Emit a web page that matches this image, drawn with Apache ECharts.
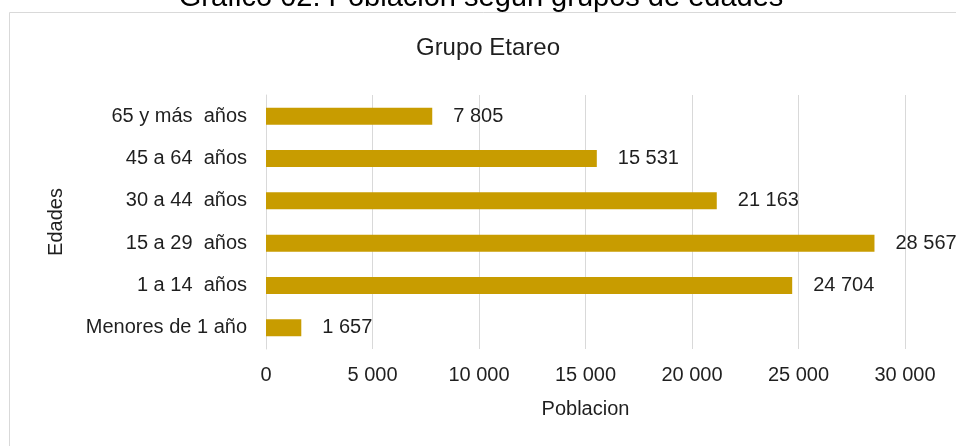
<!DOCTYPE html>
<html>
<head>
<meta charset="utf-8">
<script src="https://cdn.jsdelivr.net/npm/echarts@6/dist/echarts.min.js"></script>
<style>
  html, body { margin: 0; padding: 0; background: #fff; }
  #chart { width: 956px; height: 446px; }
</style>
</head>
<body>
<div id="chart"></div>
<script>
// Age groups, listed bottom to top on the category axis
const categories = [
  'Menores de 1 año',
  '1 a 14  años',
  '15 a 29  años',
  '30 a 44  años',
  '45 a 64  años',
  '65 y más  años'
];
// Population per age group
const poblacion = [1657, 24704, 28567, 21163, 15531, 7805];
// Value axis ticks
const xTicks = [0, 5000, 10000, 15000, 20000, 25000, 30000];

const FONT = 'Arial, "Liberation Sans", sans-serif';
const TEXT = '#1f1f1f';

// "28 567" style grouping with a space as the thousands separator
function fmt(v) {
  return String(Math.round(v)).replace(/\B(?=(\d{3})+(?!\d))/g, ' ');
}

const chart = echarts.init(document.getElementById('chart'), null, { renderer: 'canvas' });

chart.setOption({
  animation: false,
  backgroundColor: '#ffffff',
  textStyle: { fontFamily: FONT },
  graphic: [
    {
      type: 'rect',
      z: -1,
      shape: { x: 9.5, y: 12.5, width: 1000, height: 500 },
      style: { fill: '#ffffff', stroke: '#d9d9d9', lineWidth: 1 }
    },
    {
      // page heading sitting above the chart frame, partly off the top edge
      type: 'text',
      z: 10,
      x: 481,
      y: -17,
      style: {
        text: 'Gráfico 02: Población según grupos de edades',
        font: '29px ' + FONT,
        fill: '#000000',
        align: 'center',
        verticalAlign: 'top'
      }
    }
  ],
  title: {
    text: 'Grupo Etareo',
    left: 488,
    textAlign: 'center',
    top: 36,
    padding: 0,
    textStyle: { fontSize: 24, fontWeight: 'normal', color: TEXT, fontFamily: FONT, lineHeight: 24 }
  },
  grid: { left: 266, right: 51, top: 95, bottom: 97, containLabel: false },
  xAxis: {
    type: 'value',
    min: xTicks[0],
    max: xTicks[xTicks.length - 1],
    interval: xTicks[1] - xTicks[0],
    name: 'Poblacion',
    nameLocation: 'middle',
    nameGap: 50,
    nameTextStyle: { fontSize: 20, color: TEXT, fontFamily: FONT },
    axisLine: { show: false },
    axisTick: { show: false },
    axisLabel: { fontSize: 20, color: TEXT, margin: 16, formatter: fmt, fontFamily: FONT },
    splitLine: { show: true, lineStyle: { color: '#d9d9d9', width: 1 } }
  },
  yAxis: {
    type: 'category',
    data: categories,
    name: 'Edades',
    nameLocation: 'middle',
    nameGap: 200,
    nameRotate: 90,
    nameTextStyle: { fontSize: 20, color: TEXT, fontFamily: FONT },
    axisLine: { show: true, lineStyle: { color: '#d9d9d9', width: 1 } },
    axisTick: { show: false },
    axisLabel: { fontSize: 20, color: TEXT, margin: 19, fontFamily: FONT },
    splitLine: { show: false }
  },
  series: [{
    type: 'bar',
    data: poblacion,
    barWidth: 17,
    itemStyle: { color: '#C89C00' },
    label: {
      show: true,
      position: 'right',
      distance: 21,
      fontSize: 20,
      color: TEXT,
      fontFamily: FONT,
      formatter: p => fmt(p.value)
    }
  }]
});
</script>
</body>
</html>
